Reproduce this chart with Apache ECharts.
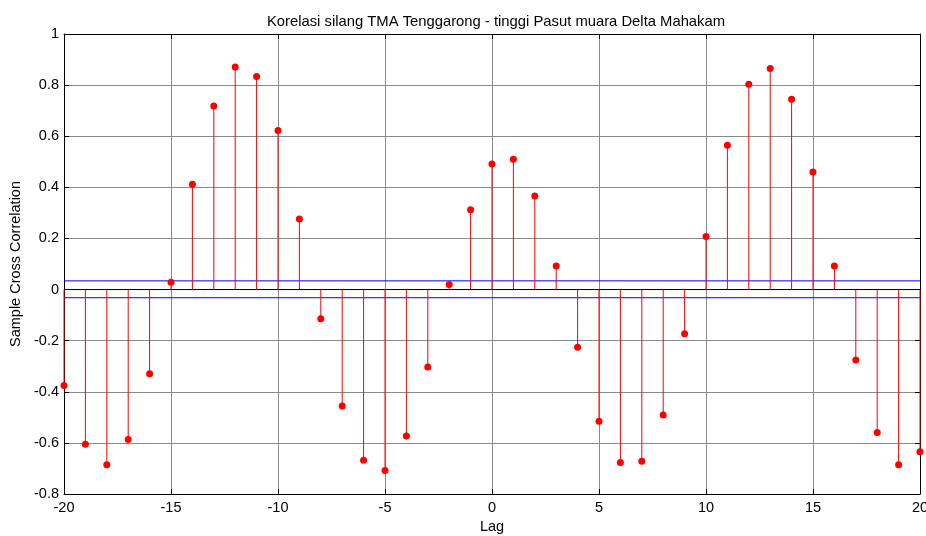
<!DOCTYPE html>
<html>
<head>
<meta charset="utf-8">
<script src="https://cdn.jsdelivr.net/npm/echarts@6/dist/echarts.min.js"></script>
<style>html,body{margin:0;padding:0;background:#fff}#c{width:926px;height:536px}</style>
</head>
<body>
<div id="c"></div>
<script>
const lags = [-20,-19,-18,-17,-16,-15,-14,-13,-12,-11,-10,-9,-8,-7,-6,-5,-4,-3,-2,-1,0,1,2,3,4,5,6,7,8,9,10,11,12,13,14,15,16,17,18,19,20];
const xcf = [-0.375,-0.605,-0.686,-0.587,-0.329,0.029,0.412,0.718,0.871,0.834,0.622,0.276,-0.114,-0.456,-0.668,-0.708,-0.573,-0.303,0.020,0.312,0.491,0.510,0.366,0.092,-0.226,-0.515,-0.677,-0.672,-0.491,-0.173,0.208,0.565,0.803,0.865,0.745,0.460,0.092,-0.276,-0.559,-0.686,-0.635];
const bounds = [0.034, -0.032];
const titleText = 'Korelasi silang TMA Tenggarong - tinggi Pasut muara Delta Mahakam';
const xName = 'Lag';
const yName = 'Sample Cross Correlation';

const FONT = 'Liberation Sans, Arial, sans-serif';
const FS = 14.5;
const pts = lags.map((l, i) => [l, xcf[i]]);
const lagMin = lags[0], lagMax = lags[lags.length - 1];

const chart = echarts.init(document.getElementById('c'), null, {renderer: 'canvas'});
chart.setOption({
  animation: false,
  backgroundColor: '#fff',
  title: {
    text: titleText, left: 491, top: 9, textAlign: 'center',
    textStyle: {fontFamily: FONT, fontSize: 14.8, fontWeight: 'normal', color: '#000'}
  },
  grid: {left: 64, right: 6, top: 34, bottom: 42, containLabel: false, outerBoundsMode: 'none'},
  xAxis: [{
    type: 'value', min: -20, max: 20, interval: 5, position: 'bottom',
    name: xName, nameLocation: 'middle', nameGap: 24,
    nameTextStyle: {fontFamily: FONT, fontSize: FS, color: '#000'},
    axisLine: {show: true, onZero: false, lineStyle: {color: '#000', width: 1}},
    axisTick: {show: true, inside: true, length: 5, lineStyle: {color: '#000'}},
    axisLabel: {fontFamily: FONT, fontSize: FS, color: '#000', margin: 6},
    splitLine: {show: true, lineStyle: {color: '#8a8a8a', width: 1}}
  }, {
    type: 'value', min: -20, max: 20, interval: 5, position: 'top',
    axisLine: {show: true, onZero: false, lineStyle: {color: '#000', width: 1}},
    axisTick: {show: true, inside: true, length: 5, lineStyle: {color: '#000'}},
    axisLabel: {show: false}, splitLine: {show: false}
  }],
  yAxis: [{
    type: 'value', min: -0.8, max: 1, interval: 0.2, position: 'left',
    name: yName, nameLocation: 'middle', nameGap: 38, nameRotate: 90,
    nameTextStyle: {fontFamily: FONT, fontSize: FS, color: '#000'},
    axisLine: {show: true, onZero: false, lineStyle: {color: '#000', width: 1}},
    axisTick: {show: true, inside: true, length: 5, lineStyle: {color: '#000'}},
    axisLabel: {fontFamily: FONT, fontSize: FS, color: '#000', margin: 5,
      formatter: v => String(Math.round(v * 10) / 10)},
    splitLine: {show: true, lineStyle: {color: '#8a8a8a', width: 1}}
  }, {
    type: 'value', min: -0.8, max: 1, interval: 0.2, position: 'right',
    axisLine: {show: true, onZero: false, lineStyle: {color: '#000', width: 1}},
    axisTick: {show: true, inside: true, length: 5, lineStyle: {color: '#000'}},
    axisLabel: {show: false}, splitLine: {show: false}
  }],
  series: [
    {
      type: 'line', data: [[lagMin, bounds[0]], [lagMax, bounds[0]]],
      symbol: 'none', lineStyle: {color: '#0000ff', width: 1}, silent: true, z: 2
    },
    {
      type: 'line', data: [[lagMin, bounds[1]], [lagMax, bounds[1]]],
      symbol: 'none', lineStyle: {color: '#0000ff', width: 1}, silent: true, z: 2
    },
    {
      type: 'line', data: [[lagMin, 0], [lagMax, 0]],
      symbol: 'none', lineStyle: {color: '#000', width: 1}, silent: true, z: 3
    },
    {
      type: 'custom', data: pts, z: 4,
      renderItem: function (params, api) {
        const x = api.value(0), y = api.value(1);
        const p0 = api.coord([x, 0]);
        const p1 = api.coord([x, y]);
        return {type: 'line', shape: {x1: p0[0], y1: p0[1], x2: p1[0], y2: p1[1]},
          style: {stroke: '#ff0000', lineWidth: 1, opacity: 1}};
      }
    },
    {
      type: 'scatter', data: pts, symbol: 'circle', symbolSize: 7,
      itemStyle: {color: '#ff0000', opacity: 1}, z: 5
    }
  ]
});
</script>
</body>
</html>
